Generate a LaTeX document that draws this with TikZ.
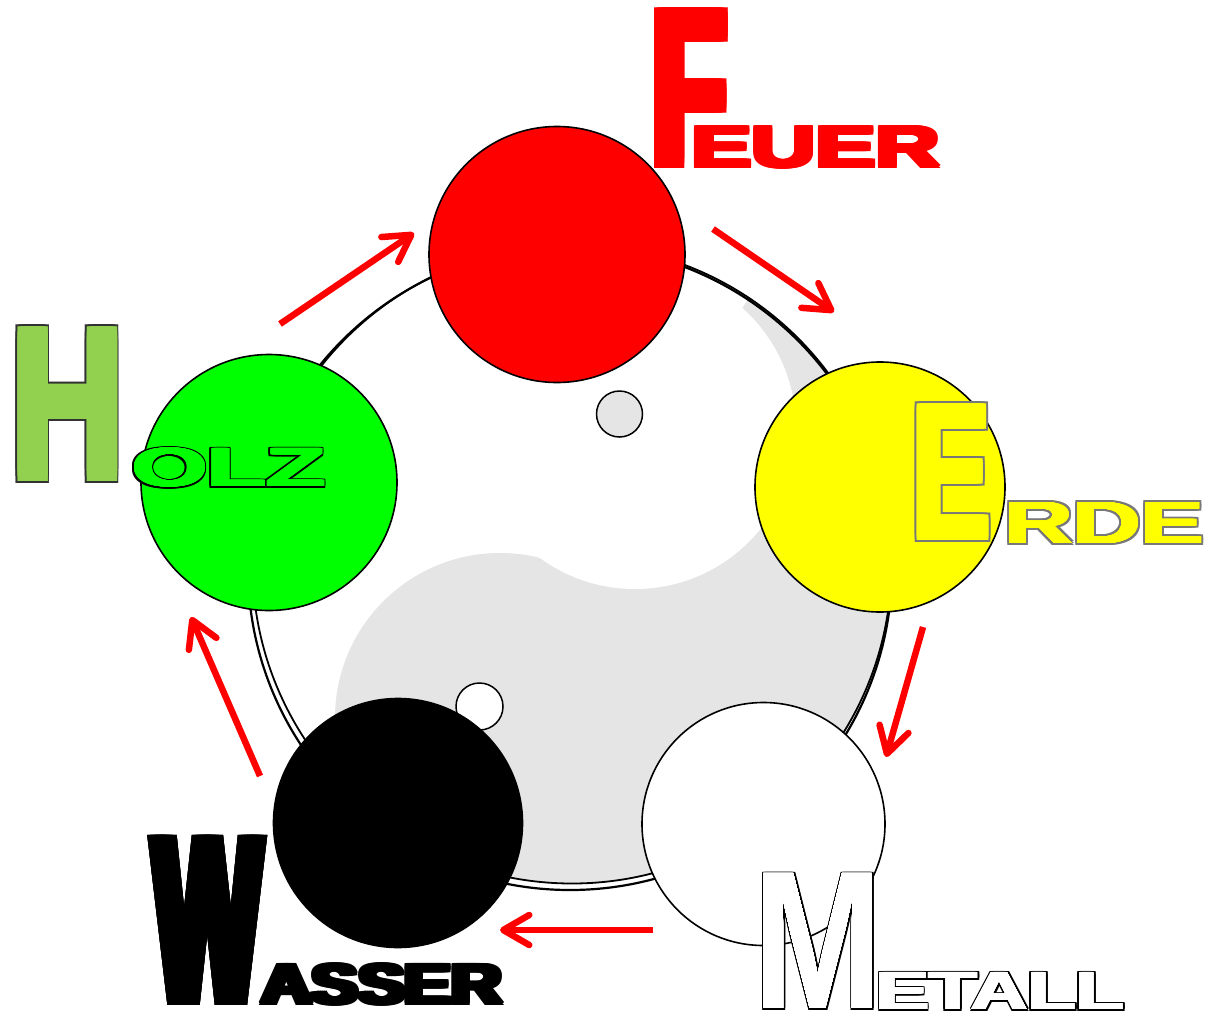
\documentclass[tikz,border=0pt]{standalone}
\usepackage{fontspec}
\usepackage{graphicx}
\newfontfamily\lblfont{Liberation Sans}
\usetikzlibrary{arrows.meta}
\definecolor{yygray}{RGB}{229,229,229}
\definecolor{holzH}{RGB}{146,208,80}
\definecolor{holzline}{RGB}{50,50,50}
\definecolor{erdeline}{RGB}{120,120,120}
\definecolor{fire}{RGB}{255,0,0}
\definecolor{wood}{RGB}{0,255,0}
\definecolor{earth}{RGB}{255,255,0}
% #1 name prefix, #2 x, #3 baseline y, #4 box width, #5 box height, #6 ex, #7 ey, #8 colour, #9 text
\newcommand{\smear}[9]{%
 \foreach \i [count=\ci] in {-1,-0.5,0,0.5,1}{%
  \foreach \j [count=\cj] in {-1,0,1}{%
   \node[lbl,text=#8] (#1\ci\cj) at ({#2+\i*#6},{#3+\j*#7}) {\resizebox{#4pt}{#5pt}{\lblfont\bfseries #9}};
  }}}
\begin{document}
\begin{tikzpicture}[x=1pt,y=-1pt,
  lbl/.style={anchor=base west,inner sep=0pt,outer sep=0pt},
  elem/.style={circle,draw=black,line width=1.6pt,inner sep=0pt},
  arr/.style={draw=fire,line width=6.5pt,-{Straight Barb[length=26pt,width=30pt,round]}}]
\fill[white] (0,0) rectangle (1213,1015);
\useasboundingbox (0,0) rectangle (1213,1015);

% yin-yang disc
\begin{scope}
 \clip (572,564) circle[radius=319.5];
 \fill[yygray] (1086,-209) -- (57,1339) -- (1500,1339) -- (1500,-209) -- cycle;
 \fill[yygray] (500,718) circle[radius=165];
 \fill[white] (635,428) circle[radius=161];
\end{scope}
\draw[fill=yygray,line width=1.5pt] (619.5,414) circle[radius=23];
\draw[fill=white,line width=1.5pt] (479.5,706.5) circle[radius=23.5];
\draw[line width=1.8pt] (572,564) circle[radius=319.5];
\draw[line width=2.2pt] (570,568) circle[radius=322];

% elements
\node[elem,fill=fire,minimum size=256pt] (feuer) at (557,254.5) {};
\node[elem,fill=wood,minimum size=256pt] (holz) at (269,482.5) {};
\node[elem,fill=earth,minimum size=250pt] (erde) at (880,487) {};
\node[elem,fill=white,minimum size=243pt] (metall) at (763.5,824) {};
\node[elem,fill=black,minimum size=249pt] (wasser) at (398,823) {};

% arrows
\coordinate (a1s) at (280,324); \coordinate (a1e) at (414,233);
\coordinate (a2s) at (713,229); \coordinate (a2e) at (834,312);
\coordinate (a3s) at (923,627); \coordinate (a3e) at (886,757);
\coordinate (a4s) at (653,930); \coordinate (a4e) at (500,930);
\coordinate (a5s) at (260,776); \coordinate (a5e) at (191,617);
\draw[arr] (a1s) -- (a1e);
\draw[arr] (a2s) -- (a2e);
\draw[arr] (a3s) -- (a3e);
\draw[arr] (a4s) -- (a4e);
\draw[arr] (a5s) -- (a5e);

% labels
\smear{fF}{652.6}{163.3}{73.1}{150.6}{6.4}{4.7}{fire}{F}
\smear{fEUER}{691.9}{166.9}{248}{39.8}{3.4}{1.1}{fire}{EUER}
\smear{oH}{11.2}{476.3}{112.7}{144.6}{5.4}{6.7}{holzline}{H}
\smear{fH}{11.2}{476.3}{112.7}{144.6}{3.9}{5.2}{holzH}{H}
\smear{oOLZ}{132.2}{486.8}{193}{38.6}{3.4}{1.3}{black}{OLZ}
\smear{fOLZ}{132.2}{486.8}{193}{38.6}{2.1}{0}{wood}{OLZ}
\smear{oE}{912.9}{538.3}{76.8}{132.6}{5.3}{3.7}{erdeline}{E}
\smear{fE}{912.9}{538.3}{76.8}{132.6}{3.3}{1.7}{earth}{E}
\smear{oRDE}{1004.6}{543}{198.8}{41}{3.6}{2}{erdeline}{RDE}
\smear{fRDE}{1004.6}{543}{198.8}{41}{1.6}{0}{earth}{RDE}
\smear{oM}{753.6}{1008.5}{128.9}{135}{1.5}{1.5}{black}{M}
\smear{fM}{753.6}{1008.5}{128.9}{135}{0}{0}{white}{M}
\smear{oETALL}{876.5}{1009.5}{247.5}{37}{3.2}{1.5}{black}{ETALL}
\smear{fETALL}{876.5}{1009.5}{247.5}{37}{1.7}{0}{white}{ETALL}
\smear{fW}{153.8}{1005}{107.5}{170}{6.3}{0}{black}{W}
\smear{fASSER}{261}{1003.8}{241}{39.6}{4}{1.2}{black}{ASSER}
\end{tikzpicture}
\end{document}
